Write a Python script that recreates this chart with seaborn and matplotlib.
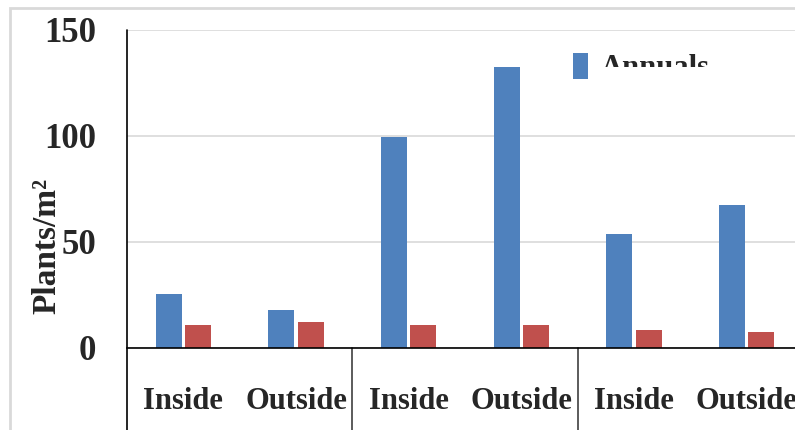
import numpy as np
import pandas as pd
import matplotlib
matplotlib.use('Agg')
import matplotlib.pyplot as plt
import matplotlib.transforms as mtransforms
from matplotlib.patches import Rectangle
import seaborn as sns

# 数据
categories = ['Inside', 'Outside', 'Inside', 'Outside', 'Inside', 'Outside']
slots = ['s1', 's2', 's3', 's4', 's5', 's6']
annuals = [25.5, 18, 99.5, 132.5, 53.8, 67.5]
perennials = [11, 12.3, 11, 11, 8.5, 7.5]
y_ticks = [0, 50, 100, 150]

df = pd.DataFrame({
    'slot': slots * 2,
    'value': annuals + perennials,
    'series': ['Annuals'] * 6 + ['Perennials'] * 6,
})

sns.set_style('white')
plt.rcParams['font.family'] = ['Liberation Serif', 'DejaVu Serif']

fig = plt.figure(figsize=(7.95, 4.30), dpi=100)
ax = fig.add_axes([127 / 795, 1 - 348 / 430, 676 / 795, (348 - 30) / 430])

sns.barplot(data=df, x='slot', y='value', hue='series', order=slots,
            palette=['#4F81BD', '#C0504D'], saturation=1, width=0.52, gap=0.115,
            edgecolor='none', ax=ax)

ax.set_xlim(-0.5, 5.5)
ax.set_ylim(0, 150)
ax.set_yticks(y_ticks)
ax.set_yticklabels([str(v) for v in y_ticks], fontsize=25, fontweight='bold')
ax.set_xticks(range(len(categories)))
ax.set_xticklabels(categories, fontsize=22, fontweight='bold')
ax.tick_params(axis='y', length=0, pad=22)
ax.tick_params(axis='x', length=0, pad=28)
ax.set_xlabel('')
ax.set_ylabel('Plants/m²', fontsize=24, fontweight='bold')
ax.yaxis.set_label_coords(-0.096, 0.32)

# 网格线
ax.yaxis.grid(True, color='#d9d9d9', lw=1.2)
ax.set_axisbelow(True)
for s in ['top', 'right']:
    ax.spines[s].set_visible(False)
ax.spines['bottom'].set_color('black')
ax.spines['bottom'].set_linewidth(1.2)
ax.spines['left'].set_visible(False)

# 分组分隔线和左轴线（向下延伸）
trans = mtransforms.blended_transform_factory(ax.transData, ax.transAxes)
ax.plot([-0.5, -0.5], [-0.3, 1.0], color='black', lw=1.2, transform=trans, clip_on=False)
for xpos in [1.5, 3.5]:
    ax.plot([xpos, xpos], [-0.3, 0], color='#404040', lw=1.2, transform=trans, clip_on=False)

# 图例（只显示 Annuals）
handles, labels = ax.get_legend_handles_labels()
leg = ax.legend(handles[:1], labels[:1], loc='upper left', bbox_to_anchor=(0.637, 0.975),
                frameon=False, prop={'size': 22, 'weight': 'bold'},
                handlelength=0.5, handleheight=0.9, handletextpad=0.4, borderpad=0)
clip = mtransforms.Bbox.from_extents(0, 430 - 67, 795, 430)
for t in leg.get_texts():
    t.set_clip_box(clip)
    t.set_clip_on(True)

# 外框
fig.add_artist(Rectangle((10 / 795, -0.1), 1.1, (430 - 8) / 430 + 0.1,
                         transform=fig.transFigure, fill=False,
                         edgecolor='#d9d9d9', lw=2))

plt.savefig('out.png', dpi=100)
plt.close()
